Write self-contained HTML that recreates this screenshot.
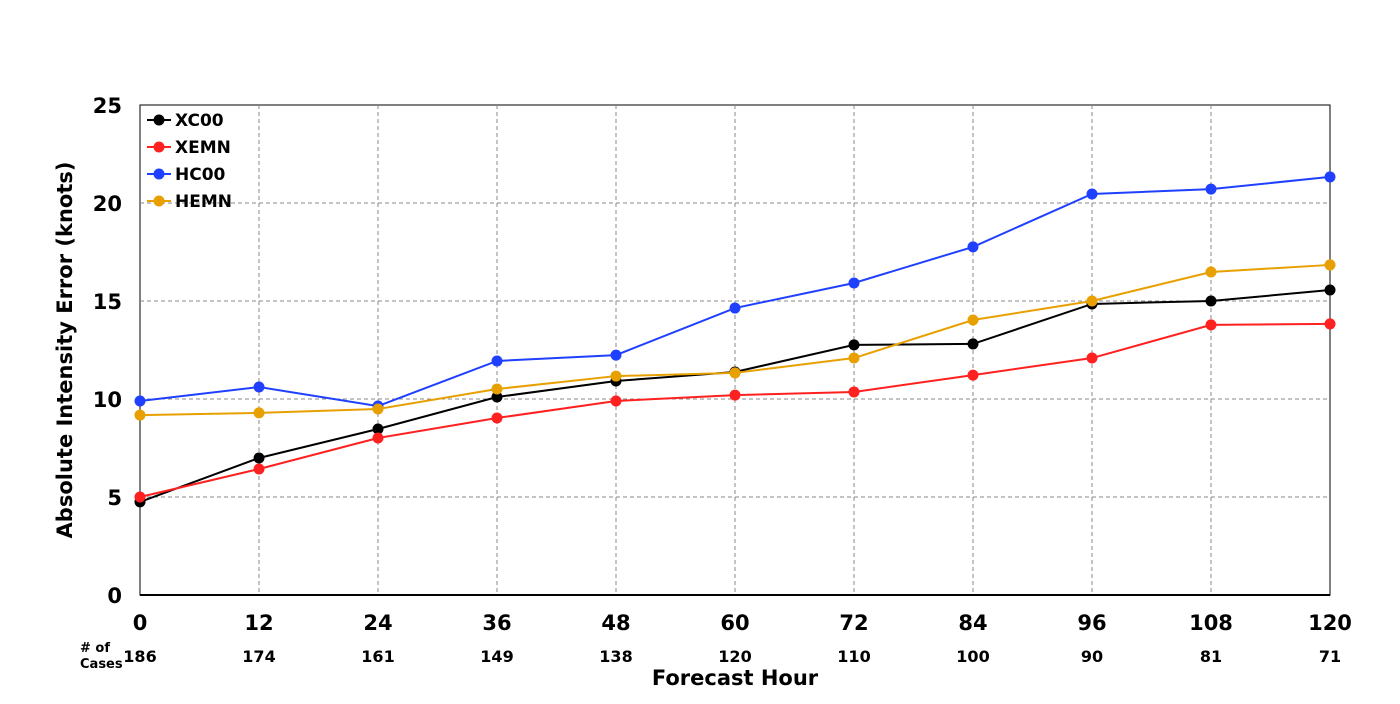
<!DOCTYPE html>
<html><head><meta charset="utf-8"><style>
body{margin:0;background:#fff;font-family:"DejaVu Sans","Liberation Sans",sans-serif;}
svg text{font-family:"DejaVu Sans","Liberation Sans",sans-serif;font-weight:bold;}
</style></head><body>
<svg id="chart" width="1400" height="700" viewBox="0 0 1400 700" xmlns="http://www.w3.org/2000/svg"></svg>
<script>
const hours=[0,12,24,36,48,60,72,84,96,108,120];
const cases=[186,174,161,149,138,120,110,100,90,81,71];
const yTicks=[0,5,10,15,20,25];
const xc00=[4.75,6.99,8.47,10.1,10.92,11.38,12.76,12.81,14.85,15.0,15.56];
const xemn=[5.0,6.43,8.01,9.03,9.9,10.2,10.36,11.22,12.09,13.78,13.83];
const hc00=[9.9,10.61,9.64,11.94,12.24,14.64,15.92,17.76,20.46,20.71,21.33];
const hemn=[9.18,9.29,9.49,10.51,11.17,11.33,12.09,14.03,15.0,16.48,16.84];
const seriesNames=["XC00","XEMN","HC00","HEMN"];
const seriesData=[xc00,xemn,hc00,hemn];
const colors=["#000000","#ff2020","#2040ff","#e8a000"];
const L=140,R=1330,T=105,B=595;
const xs=h=>L+(h-0)/(120-0)*(R-L);
const ys=v=>B-(v/25)*(B-T);
const svg=document.getElementById('chart');
const NS="http://www.w3.org/2000/svg";
function mk(tag,attrs,parent){const e=document.createElementNS(NS,tag);for(const k in attrs)e.setAttribute(k,attrs[k]);(parent||svg).appendChild(e);return e;}
// frame
let fr=mk('rect',{x:L,y:T,width:R-L,height:B-T,fill:'none',stroke:'#000','stroke-width':1});


// grid
yTicks.forEach(v=>{
  if(v>0&&v<25){let g=mk('line',{x1:L,x2:R,y1:ys(v),y2:ys(v),stroke:'#888','stroke-dasharray':'4,3'});
  
  }
  let t=mk('text',{x:L-18,y:ys(v)+8,'text-anchor':'end','font-size':21});t.textContent=v;
  
  
});
hours.forEach((h,i)=>{
  if(h>0&&h<120){let g=mk('line',{x1:xs(h),x2:xs(h),y1:T,y2:B,stroke:'#888','stroke-dasharray':'4,3'});
  
  }
  let t=mk('text',{x:xs(h),y:630,'text-anchor':'middle','font-size':21});t.textContent=h;
  
  
  let c=mk('text',{x:xs(h),y:662,'text-anchor':'middle','font-size':16});c.textContent=cases[i];
  
  
});
let ax=mk('line',{x1:L,x2:R,y1:B,y2:B,stroke:'#000','stroke-width':2});


let n1=mk('text',{x:80,y:652,'font-size':13});n1.textContent='# of';


let n2=mk('text',{x:80,y:668,'font-size':13});n2.textContent='Cases';


let xt=mk('text',{x:735,y:685,'text-anchor':'middle','font-size':21});xt.textContent='Forecast Hour';


let yt=mk('text',{x:0,y:0,'text-anchor':'middle','font-size':21,transform:'translate(72,350) rotate(-90)'});yt.textContent='Absolute Intensity Error (knots)';


seriesData.forEach((d,si)=>{
  const g=mk('g',{});
  
  
  const pts=d.map((v,i)=>xs(hours[i])+','+ys(v)).join(' ');
  const pl=mk('polyline',{points:pts,fill:'none',stroke:colors[si],'stroke-width':2},g);
  
  
  d.forEach((v,i)=>{const c=mk('circle',{cx:xs(hours[i]),cy:ys(v),r:5.5,fill:colors[si]},g);
    
    });
  // legend
  const ly=120+si*27;
  const lg=mk('g',{});
  
  
  mk('line',{x1:147,x2:171,y1:ly,y2:ly,stroke:colors[si],'stroke-width':2},lg);
  mk('circle',{cx:159,cy:ly,r:5.5,fill:colors[si]},lg);
  const lt=mk('text',{x:175,y:ly+6,'font-size':17},lg);lt.textContent=seriesNames[si];
});
</script>
</body></html>
